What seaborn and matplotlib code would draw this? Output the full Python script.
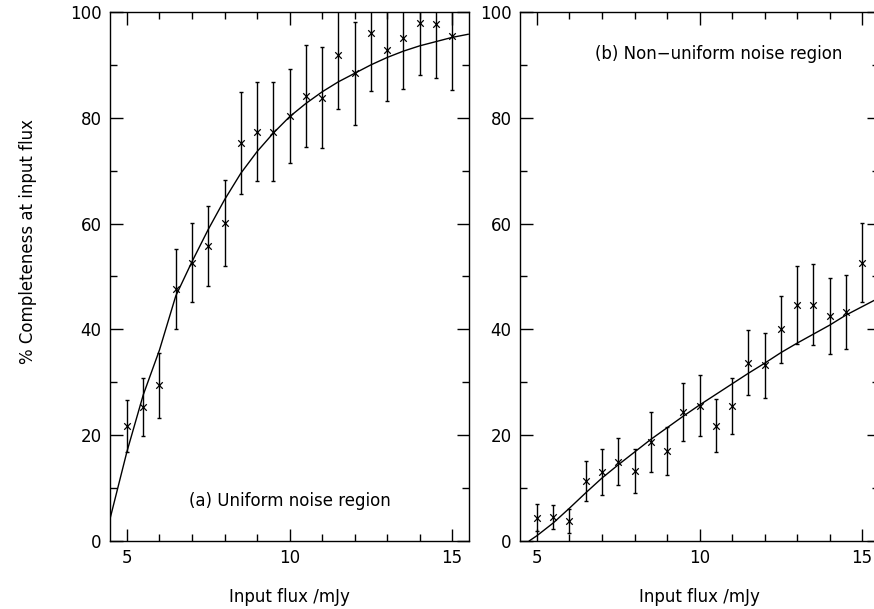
import numpy as np
import pandas as pd
import matplotlib
matplotlib.use("Agg")
import matplotlib.pyplot as plt
import seaborn as sns
from matplotlib.ticker import MultipleLocator

# Data
flux = [5.0, 5.5, 6.0, 6.5, 7.0, 7.5, 8.0, 8.5, 9.0, 9.5, 10.0,
        10.5, 11.0, 11.5, 12.0, 12.5, 13.0, 13.5, 14.0, 14.5, 15.0]

# (a) uniform noise region
comp_a = [21.8, 25.3, 29.4, 47.6, 52.6, 55.8, 60.1, 75.2, 77.4, 77.4, 80.3,
          84.1, 83.8, 91.9, 88.4, 96.0, 92.8, 95.0, 97.9, 97.7, 95.5]
err_a = [4.9, 5.5, 6.2, 7.6, 7.5, 7.6, 8.1, 9.7, 9.3, 9.3, 8.9,
         9.7, 9.6, 10.2, 9.7, 11.0, 9.6, 9.6, 9.8, 10.2, 10.2]

# (b) non-uniform noise region
comp_b = [4.4, 4.5, 3.8, 11.4, 13.0, 15.0, 13.2, 18.7, 17.0, 24.4, 25.6,
          21.8, 25.6, 33.7, 33.2, 40.0, 44.6, 44.7, 42.6, 43.3, 52.6]
err_b = [2.5, 2.3, 2.2, 3.8, 4.4, 4.5, 4.2, 5.6, 4.6, 5.5, 5.7,
         5.0, 5.3, 6.1, 6.2, 6.3, 7.4, 7.7, 7.2, 7.0, 7.5]

# fitted curves
fit_x_a = [4.48, 5.0, 5.5, 6.0, 6.5, 7.0, 7.5, 8.0, 8.5, 9.0, 9.5, 10.0,
           10.5, 11.0, 11.5, 12.0, 12.5, 13.0, 13.5, 14.0, 14.5, 15.0, 15.5]
fit_y_a = [4.2, 16.9, 27.6, 36.1, 46.3, 52.8, 58.9, 64.5, 69.5, 73.6, 77.1, 80.2,
           82.7, 84.9, 86.8, 88.4, 90.0, 91.4, 92.6, 93.6, 94.4, 95.2, 95.8]

fit_x_b = [4.76, 5.0, 5.5, 6.0, 6.5, 7.0, 7.5, 8.0, 8.5, 9.0, 9.5, 10.0,
           10.5, 11.0, 11.5, 12.0, 12.5, 13.0, 13.5, 14.0, 14.5, 15.0, 15.5]
fit_y_b = [0.0, 1.0, 3.4, 6.2, 9.1, 11.9, 14.4, 16.8, 19.2, 21.4, 23.6, 25.7,
           27.7, 29.7, 31.7, 33.6, 35.6, 37.4, 39.1, 40.8, 42.7, 44.3, 45.9]

panels = [
    ("(a) Uniform noise region", comp_a, err_a, fit_x_a, fit_y_a, (10.0, 7.6)),
    ("(b) Non\u2212uniform noise region", comp_b, err_b, fit_x_b, fit_y_b, (10.6, 92.1)),
]

sns.set_theme(style="white")
plt.rcParams['font.family'] = ['DejaVu Sans']
plt.rcParams['text.color'] = 'black'
plt.rcParams['axes.labelcolor'] = 'black'

fig = plt.figure(figsize=(8.74, 6.09), dpi=100)
ax_a = fig.add_axes([0.1259, 0.1117, 0.4108, 0.8686])
ax_b = fig.add_axes([0.595, 0.1117, 0.4108, 0.8686])

for ax, (label, comp, err, fx, fy, txt) in zip([ax_a, ax_b], panels):
    pts = pd.DataFrame({"flux": flux, "comp": comp})
    curve = pd.DataFrame({"flux": fx, "comp": fy})
    ax.errorbar(flux, comp, yerr=err, fmt="none", ecolor="black",
                elinewidth=1.0, capsize=1.2, capthick=1.0)
    sns.scatterplot(data=pts, x="flux", y="comp", marker="x", color="black",
                    s=22, linewidth=0.9, ax=ax, zorder=3)
    sns.lineplot(data=curve, x="flux", y="comp", color="black",
                 linewidth=1.0, ax=ax, sort=False)
    ax.text(txt[0], txt[1], label, ha="center", va="center", fontsize=12,
            color="black")

    ax.set_xlim(4.48, 15.52)
    ax.set_ylim(0, 100)
    ax.xaxis.set_major_locator(MultipleLocator(5))
    ax.xaxis.set_minor_locator(MultipleLocator(1))
    ax.yaxis.set_major_locator(MultipleLocator(20))
    ax.yaxis.set_minor_locator(MultipleLocator(10))
    ax.tick_params(which="both", direction="in", top=True, right=True,
                   bottom=True, left=True, colors="black", labelsize=12, width=1.0)
    ax.tick_params(which="major", length=9, pad=6)
    ax.tick_params(which="minor", length=5)
    for sp in ax.spines.values():
        sp.set_color("black")
        sp.set_linewidth(1.0)
    ax.set_xlabel("")
    ax.set_ylabel("")
    ax.text(0.5, 597 / 609, "Input flux /mJy", transform=ax.transAxes,
            ha="center", va="center", fontsize=12, color="black")

# x-label y position uses figure coords
for t in ax_a.texts[-1:] + ax_b.texts[-1:]:
    t.set_transform(matplotlib.transforms.blended_transform_factory(t.axes.transAxes, fig.transFigure))
    t.set_y(1 - 597 / 609)

fig.text(28 / 874, 1 - 242 / 609, "% Completeness at input flux", rotation=90,
         ha="center", va="center", fontsize=12, color="black")

fig.savefig("out.png", dpi=100)
